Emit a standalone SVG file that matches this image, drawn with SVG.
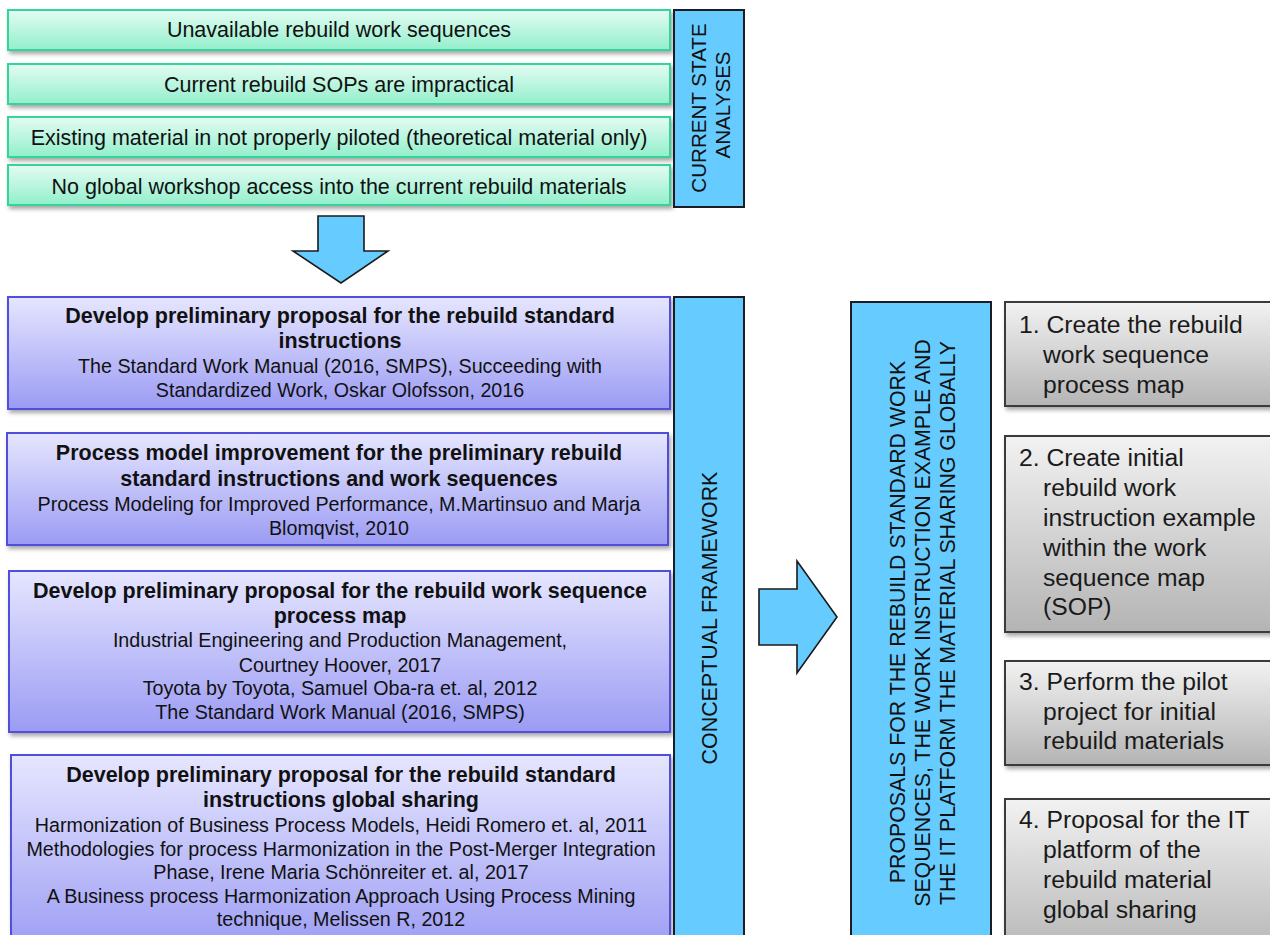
<svg xmlns="http://www.w3.org/2000/svg" width="1270" height="935" viewBox="0 0 1270 935">
<defs>
<linearGradient id="gGreen" x1="0" y1="0" x2="0" y2="1"><stop offset="0" stop-color="#e4fcf3"/><stop offset="1" stop-color="#92efcc"/></linearGradient>
<linearGradient id="gPurple" x1="0" y1="0" x2="0" y2="1"><stop offset="0" stop-color="#e6e6ff"/><stop offset="1" stop-color="#9b9bf4"/></linearGradient>
<linearGradient id="gGray" x1="0" y1="0" x2="0" y2="1"><stop offset="0" stop-color="#f2f2f2"/><stop offset="1" stop-color="#b4b4b4"/></linearGradient>
<filter id="sh" x="-5%" y="-10%" width="110%" height="130%"><feDropShadow dx="2" dy="3" stdDeviation="2" flood-color="#000" flood-opacity="0.35"/></filter>
<style>
.green{fill:url(#gGreen);stroke:#34d49a;stroke-width:2;filter:url(#sh)}
.purple{fill:url(#gPurple);stroke:#4f4fdc;stroke-width:2;filter:url(#sh)}
.gray{fill:url(#gGray);stroke:#3a3a3a;stroke-width:2;filter:url(#sh)}
.blue{fill:#66ccff;stroke:#1c1c24;stroke-width:2}
.arrow{fill:#66ccff;stroke:#1a1a1a;stroke-width:1.6;stroke-linejoin:miter}
text{font-family:"Liberation Sans",Arial,sans-serif;fill:#111}
.gt{font-size:21.5px;text-anchor:middle}
.pb{font-size:21.5px;font-weight:bold;text-anchor:middle}
.pn{font-size:19.7px;text-anchor:middle}
.vt{text-anchor:middle}
.rt{font-size:24.7px;fill:#1a1a1a}
</style>
</defs>
<rect width="1270" height="935" fill="#ffffff"/>

<g id="current-state-1"><rect class="green" x="8" y="10" width="662" height="40"/><text class="gt" x="339" y="37">Unavailable rebuild work sequences</text></g>
<g id="current-state-2"><rect class="green" x="8" y="64" width="662" height="40"/><text class="gt" x="339" y="92">Current rebuild SOPs are impractical</text></g>
<g id="current-state-3"><rect class="green" x="8" y="117" width="662" height="40"/><text class="gt" x="339" y="145">Existing material in not properly piloted (theoretical material only)</text></g>
<g id="current-state-4"><rect class="green" x="8" y="165" width="662" height="40"/><text class="gt" x="339" y="194">No global workshop access into the current rebuild materials</text></g>

<g id="current-state-label"><rect class="blue" x="674" y="10" width="70" height="197"/>
<text class="vt" font-size="20.6" transform="translate(699,108) rotate(-90)" y="7.4">CURRENT STATE</text>
<text class="vt" font-size="20.6" transform="translate(723,105) rotate(-90)" y="7.4">ANALYSES</text></g>

<g id="framework-1"><rect class="purple" x="8" y="297" width="662" height="112"/>
<text class="pb" x="340" y="323">Develop preliminary proposal for the rebuild standard</text>
<text class="pb" x="340" y="348">instructions</text>
<text class="pn" x="340" y="373">The Standard Work Manual (2016, SMPS), Succeeding with</text>
<text class="pn" x="340" y="397">Standardized Work, Oskar Olofsson, 2016</text></g>

<g id="framework-2"><rect class="purple" x="7" y="433" width="661" height="112"/>
<text class="pb" x="339" y="460">Process model improvement for the preliminary rebuild</text>
<text class="pb" x="339" y="486">standard instructions and work sequences</text>
<text class="pn" x="339" y="511">Process Modeling for Improved Performance, M.Martinsuo and Marja</text>
<text class="pn" x="339" y="535">Blomqvist, 2010</text></g>

<g id="framework-3"><rect class="purple" x="9" y="571" width="661" height="161"/>
<text class="pb" x="340" y="598">Develop preliminary proposal for the rebuild work sequence</text>
<text class="pb" x="340" y="623">process map</text>
<text class="pn" x="340" y="647">Industrial Engineering and Production Management,</text>
<text class="pn" x="340" y="672">Courtney Hoover, 2017</text>
<text class="pn" x="340" y="695">Toyota by Toyota, Samuel Oba-ra et. al, 2012</text>
<text class="pn" x="340" y="719">The Standard Work Manual (2016, SMPS)</text></g>

<g id="framework-4"><rect class="purple" x="11" y="755" width="659" height="200"/>
<text class="pb" x="341" y="782">Develop preliminary proposal for the rebuild standard</text>
<text class="pb" x="341" y="807">instructions global sharing</text>
<text class="pn" x="341" y="832">Harmonization of Business Process Models, Heidi Romero et. al, 2011</text>
<text class="pn" x="341" y="856">Methodologies for process Harmonization in the Post-Merger Integration</text>
<text class="pn" x="341" y="879">Phase, Irene Maria Schönreiter et. al, 2017</text>
<text class="pn" x="341" y="903">A Business process Harmonization Approach Using Process Mining</text>
<text class="pn" x="341" y="926">technique, Melissen R, 2012</text></g>

<g id="conceptual-framework-label"><rect class="blue" x="674" y="297" width="70" height="660"/>
<text class="vt" font-size="21.4" transform="translate(709,618) rotate(-90)" y="7.6">CONCEPTUAL FRAMEWORK</text></g>

<g id="proposals-label"><rect class="blue" x="851" y="302" width="140" height="660"/>
<text class="vt" font-size="21.3" transform="translate(897,622) rotate(-90)" y="7.6">PROPOSALS FOR THE REBUILD STANDARD WORK</text>
<text class="vt" font-size="21.3" transform="translate(922,623) rotate(-90)" y="7.6">SEQUENCES, THE WORK INSTRUCTION EXAMPLE AND</text>
<text class="vt" font-size="21.3" transform="translate(947,623) rotate(-90)" y="7.6">THE IT PLATFORM THE MATERIAL SHARING GLOBALLY</text></g>

<g id="result-1"><rect class="gray" x="1005" y="302" width="280" height="104"/>
<text class="rt" x="1019" y="333">1. Create the rebuild</text>
<text class="rt" x="1043" y="363">work sequence</text>
<text class="rt" x="1043" y="393">process map</text></g>

<g id="result-2"><rect class="gray" x="1005" y="436" width="280" height="196"/>
<text class="rt" x="1019" y="466">2. Create initial</text>
<text class="rt" x="1043" y="496">rebuild work</text>
<text class="rt" x="1043" y="526">instruction example</text>
<text class="rt" x="1043" y="556">within the work</text>
<text class="rt" x="1043" y="586">sequence map</text>
<text class="rt" x="1043" y="615">(SOP)</text></g>

<g id="result-3"><rect class="gray" x="1005" y="661" width="280" height="104"/>
<text class="rt" x="1019" y="690">3. Perform the pilot</text>
<text class="rt" x="1043" y="720">project for initial</text>
<text class="rt" x="1043" y="749">rebuild materials</text></g>

<g id="result-4"><rect class="gray" x="1005" y="799" width="280" height="160"/>
<text class="rt" x="1019" y="828">4. Proposal for the IT</text>
<text class="rt" x="1043" y="858">platform of the</text>
<text class="rt" x="1043" y="888">rebuild material</text>
<text class="rt" x="1043" y="918">global sharing</text></g>

<g id="connectors">
<polygon class="arrow" points="318,216 364,216 364,251 388,251 341,283 293,251 318,251"/>
<polygon class="arrow" points="759,589 797,589 797,561 837,617 797,673 797,645 759,645"/>
</g>
</svg>
